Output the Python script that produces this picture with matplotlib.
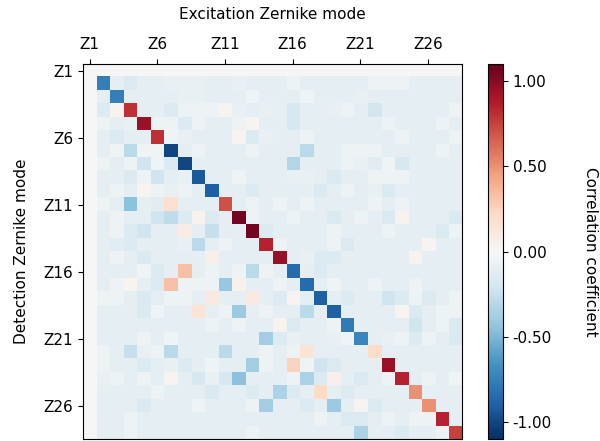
import numpy as np
import matplotlib
matplotlib.use("Agg")
import matplotlib.pyplot as plt

# mode labels Z1..Z28, ticks every 5 modes
modes = ["Z%d" % i for i in range(1, 29)]
tick_idx = [0, 5, 10, 15, 20, 25]

# correlation between detected (rows) and excited (columns) Zernike modes
corr = [
    [0.00] * 28,
    [0, -0.75, -0.10, -0.16, -0.10, -0.10, -0.08, -0.08, -0.08, -0.10, -0.10, -0.08, -0.10, -0.10, -0.10, -0.06, -0.10, -0.10, -0.10, -0.10, -0.10, -0.06, -0.06, -0.06, -0.10, -0.10, -0.10, -0.10],
    [0, -0.10, -0.75, -0.10, -0.10, -0.10, -0.10, -0.08, -0.08, -0.10, -0.10, -0.10, -0.05, -0.10, -0.10, -0.10, -0.05, -0.10, -0.10, -0.10, -0.08, -0.10, -0.10, -0.10, -0.10, -0.10, -0.10, -0.10],
    [0, -0.15, 0.04, 0.80, -0.10, -0.10, -0.15, -0.06, -0.06, -0.06, 0.03, -0.08, -0.10, -0.08, -0.10, -0.18, -0.10, -0.10, -0.08, -0.06, -0.10, -0.20, -0.10, -0.10, -0.10, -0.10, -0.10, -0.06],
    [0, -0.06, -0.10, -0.08, 0.95, -0.06, -0.06, -0.15, -0.06, -0.10, -0.10, -0.06, 0.03, -0.10, -0.10, -0.18, -0.10, -0.10, -0.10, -0.10, -0.10, -0.10, -0.06, -0.10, -0.10, -0.10, -0.06, -0.10],
    [0, -0.10, -0.15, -0.10, -0.10, 0.80, -0.05, -0.08, -0.10, -0.10, -0.10, 0.03, -0.15, -0.08, -0.10, -0.10, -0.06, -0.10, -0.10, -0.10, -0.10, -0.10, -0.10, -0.06, -0.10, -0.10, -0.10, -0.06],
    [0, -0.10, -0.05, -0.30, -0.05, -0.05, -1.00, -0.10, -0.06, -0.10, -0.10, -0.10, -0.06, -0.10, -0.10, -0.10, -0.30, -0.10, -0.10, -0.06, -0.06, -0.06, -0.10, -0.10, -0.10, -0.10, -0.06, -0.10],
    [0, -0.06, -0.10, -0.06, -0.22, -0.05, -0.15, -1.00, -0.10, -0.10, -0.10, -0.10, -0.10, -0.10, -0.10, -0.32, -0.10, -0.10, -0.10, -0.06, -0.08, -0.12, -0.05, -0.18, -0.10, -0.10, -0.10, -0.10],
    [0, -0.10, -0.10, -0.16, -0.06, -0.22, -0.10, -0.08, -0.92, -0.10, -0.10, -0.05, -0.10, -0.10, -0.10, -0.08, -0.08, -0.10, -0.16, -0.10, -0.10, -0.06, -0.06, -0.06, -0.10, -0.10, -0.10, -0.10],
    [0, -0.10, -0.06, -0.10, 0.03, -0.06, -0.08, -0.06, -0.10, -0.90, -0.10, -0.10, -0.15, -0.10, -0.10, -0.10, -0.10, -0.16, -0.10, -0.06, -0.10, -0.08, -0.16, -0.10, -0.10, -0.10, -0.10, -0.10],
    [0, -0.06, -0.10, -0.45, -0.10, -0.12, 0.18, -0.10, -0.10, -0.10, 0.70, -0.10, -0.06, -0.10, -0.06, -0.10, -0.06, -0.10, -0.10, -0.10, -0.10, -0.06, -0.10, -0.06, -0.10, -0.10, -0.10, -0.10],
    [0, -0.10, -0.06, -0.10, -0.10, -0.22, -0.28, -0.15, 0.04, -0.15, -0.10, 1.05, -0.06, -0.10, -0.10, -0.06, -0.10, -0.10, -0.16, -0.10, -0.06, -0.10, -0.16, 0.04, -0.10, -0.10, -0.10, -0.16],
    [0, -0.10, -0.06, -0.15, -0.22, -0.10, -0.10, 0.08, -0.10, -0.25, -0.10, -0.10, 1.05, -0.15, -0.10, -0.10, -0.10, -0.10, -0.06, -0.10, -0.10, -0.10, -0.06, -0.10, -0.10, -0.10, -0.16, -0.06],
    [0, -0.10, -0.12, -0.15, -0.10, -0.10, -0.10, -0.08, -0.30, -0.10, -0.06, -0.10, -0.10, 0.85, -0.06, -0.10, -0.10, -0.10, -0.06, -0.16, -0.10, -0.10, -0.10, -0.10, -0.10, 0.03, -0.10, -0.10],
    [0, -0.10, -0.06, -0.10, -0.16, -0.10, -0.10, -0.10, -0.10, 0.06, -0.10, -0.10, -0.10, -0.10, 0.95, -0.10, -0.08, -0.15, -0.15, -0.10, -0.10, -0.10, -0.10, -0.10, 0.04, -0.10, -0.10, -0.10],
    [0, -0.10, -0.10, -0.10, -0.05, -0.15, -0.10, 0.32, -0.10, -0.06, -0.10, -0.06, -0.30, -0.06, -0.10, -0.85, -0.10, -0.15, -0.10, -0.10, -0.10, -0.10, -0.10, -0.10, -0.10, -0.10, -0.10, -0.10],
    [0, -0.10, -0.06, 0.03, -0.10, -0.15, 0.32, -0.06, -0.06, -0.06, -0.42, 0.05, -0.10, -0.10, -0.06, -0.10, -0.85, -0.10, -0.05, -0.10, -0.10, -0.06, -0.10, -0.10, -0.06, -0.10, -0.10, -0.10],
    [0, -0.06, -0.06, -0.10, -0.16, -0.10, -0.06, -0.06, -0.10, 0.10, -0.10, -0.10, 0.10, -0.10, -0.15, 0.03, -0.10, -0.90, -0.10, -0.15, -0.10, -0.10, -0.22, -0.15, -0.06, -0.15, -0.10, -0.06],
    [0, -0.10, -0.10, -0.10, -0.16, -0.05, -0.10, -0.10, 0.15, -0.10, -0.06, -0.40, -0.10, -0.06, -0.10, -0.10, -0.30, -0.10, -0.90, -0.10, -0.10, -0.10, -0.10, 0.03, -0.16, -0.10, -0.06, -0.06],
    [0, -0.10, -0.10, -0.10, -0.10, -0.10, -0.10, -0.10, -0.10, -0.06, -0.10, -0.06, -0.10, -0.10, 0.04, -0.16, -0.10, -0.10, -0.06, -0.78, -0.10, -0.10, -0.10, -0.10, -0.22, -0.10, -0.06, -0.16],
    [0, -0.10, -0.10, -0.10, -0.06, -0.10, -0.05, -0.10, -0.10, -0.10, -0.10, -0.10, -0.10, -0.38, -0.15, -0.08, -0.10, -0.10, -0.08, -0.05, -0.72, -0.10, -0.08, -0.06, -0.15, -0.06, -0.10, -0.16],
    [0, -0.06, -0.10, -0.25, -0.08, -0.06, -0.30, -0.10, -0.10, -0.10, -0.30, -0.10, -0.10, -0.06, -0.10, -0.06, 0.15, -0.10, -0.10, -0.10, -0.10, 0.20, -0.10, -0.10, -0.10, -0.10, -0.10, -0.10],
    [0, -0.06, -0.10, -0.10, -0.15, -0.10, -0.08, -0.15, -0.10, -0.05, -0.10, -0.10, -0.38, -0.06, -0.10, 0.25, -0.05, -0.22, -0.16, -0.10, -0.10, -0.10, 0.95, -0.10, -0.10, -0.10, -0.10, -0.10],
    [0, -0.08, -0.06, -0.10, -0.06, -0.10, 0.03, -0.10, -0.18, -0.08, -0.18, -0.45, -0.10, -0.10, -0.10, -0.06, -0.35, -0.15, 0.06, -0.10, -0.16, -0.10, -0.06, 0.85, -0.10, -0.06, -0.10, -0.05],
    [0, -0.10, -0.10, -0.10, -0.10, -0.06, -0.10, -0.10, -0.10, -0.16, -0.10, -0.10, -0.15, -0.10, -0.35, -0.15, -0.10, 0.22, -0.10, -0.15, -0.10, -0.10, -0.10, -0.10, 0.50, -0.10, -0.10, -0.10],
    [0, -0.10, -0.10, -0.10, -0.16, -0.10, -0.10, -0.10, -0.05, -0.10, -0.10, -0.10, -0.06, -0.38, -0.10, -0.10, -0.15, -0.10, -0.40, -0.10, 0.03, -0.15, -0.10, -0.10, -0.10, 0.50, -0.10, -0.10],
    [0, -0.10, -0.10, -0.06, -0.10, -0.10, -0.10, -0.10, -0.10, -0.10, -0.10, -0.10, -0.10, -0.10, -0.10, -0.10, -0.10, -0.06, -0.10, -0.16, -0.16, -0.10, -0.06, -0.10, -0.06, -0.06, 0.85, -0.10],
    [0, -0.10, -0.10, -0.06, -0.10, -0.10, -0.10, -0.10, -0.10, -0.10, -0.10, -0.10, -0.06, -0.10, -0.10, -0.10, -0.10, -0.10, -0.10, -0.10, -0.35, -0.10, -0.10, -0.15, -0.10, -0.10, -0.06, 0.75],
]
corr = np.array(corr)

fig = plt.figure(figsize=(6.0, 4.41), dpi=100)
ax = fig.add_axes([0.138, 0.004, 0.632, 0.851])
im = ax.imshow(corr, cmap="RdBu_r", vmin=-1.1, vmax=1.1,
               interpolation="nearest", aspect="auto")

ax.xaxis.tick_top()
ax.xaxis.set_label_position("top")
ax.set_xticks(tick_idx)
ax.set_xticklabels([modes[i] for i in tick_idx], fontsize=11)
ax.set_yticks(tick_idx)
ax.set_yticklabels([modes[i] for i in tick_idx], fontsize=11)
ax.tick_params(axis="x", pad=5)
ax.set_xlabel("Excitation Zernike mode", fontsize=11, labelpad=13)
ax.set_ylabel("Detection Zernike mode", fontsize=11, labelpad=10)

cax = fig.add_axes([0.813, 0.004, 0.025, 0.851])
cb = fig.colorbar(im, cax=cax, ticks=[-1, -0.5, 0, 0.5, 1], format="%.2f")
cb.ax.tick_params(labelsize=11)
cb.set_label("Correlation coefficient", fontsize=11, rotation=270, labelpad=33)

fig.savefig("out.png", dpi=100)
